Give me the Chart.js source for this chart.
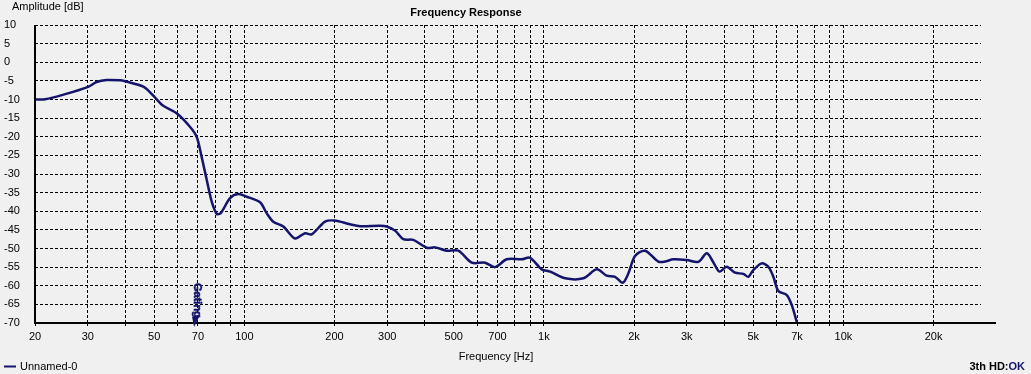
<!DOCTYPE html>
<html>
<head>
<meta charset="utf-8">
<script src="https://cdn.jsdelivr.net/npm/chart.js@4"></script>
<style>
  html, body { margin: 0; padding: 0; background: #f0f0f0; }
  canvas { display: block; }
</style>
</head>
<body>
<canvas id="freqChart" width="1031" height="374"></canvas>
<script>
// measured curve (Hz / dB)
const freqHz = [20, 21.6, 24.9, 30.1, 32.1, 34.7, 38.4, 40, 46.0, 50,
  53.6, 59.4, 65.8, 69.3, 72.0, 74.9, 77.8, 80.9, 83.4, 89.6,
  95.4, 101.8, 112.8, 118.7, 124.9, 134.9, 147.6, 159.4, 167.8, 185.9,
  200, 225.4, 243.4, 283.8, 298.8, 318.4, 339.4, 366.6, 406.2, 433.2,
  473.8, 518.2, 574.4, 636.2, 687, 751.6, 843.4, 899.4, 983.6, 1049,
  1177, 1355, 1502, 1621, 1729, 1834, 1914, 2015, 2176, 2410,
  2538, 2706, 3000, 3278, 3498, 3662, 3854, 4078, 4348, 4634,
  4816, 5004, 5338, 5616, 5836, 6064, 6470, 6724, 7004];
const amplitudeDb = [-10.0, -9.95, -8.7, -6.6, -5.3, -4.76, -4.85, -5.1, -6.56, -9.25,
  -11.7, -13.7, -17.3, -20.0, -25.4, -31.6, -37.4, -40.7, -40.5, -36.5,
  -35.4, -36.1, -37.6, -40.5, -42.8, -44.1, -47.3, -45.9, -46.2, -42.8,
  -42.5, -43.5, -44.0, -43.9, -44.1, -45.2, -47.5, -47.7, -49.8, -49.7,
  -50.6, -50.6, -53.8, -53.8, -55.0, -52.9, -52.9, -52.5, -55.6, -56.2,
  -58.0, -58.0, -55.6, -57.3, -57.6, -59.2, -56.7, -52.0, -50.6, -53.5,
  -53.5, -52.9, -53.1, -53.6, -51.3, -53.4, -56.2, -54.9, -56.5, -56.8,
  -57.6, -55.8, -54.0, -54.9, -57.6, -61.4, -62.5, -65.2, -70.0];

// axes
const xGridHz = [20, 30, 40, 50, 60, 70, 80, 90, 100, 200, 300, 400, 500, 600, 700, 800, 900,
  1000, 2000, 3000, 4000, 5000, 6000, 7000, 8000, 9000, 10000, 20000];
const xLabelHz = [20, 30, 50, 70, 100, 200, 300, 500, 700, 1000, 2000, 3000, 5000, 7000, 10000, 20000];
const xLabelText = ['20', '30', '50', '70', '100', '200', '300', '500', '700', '1k', '2k', '3k', '5k', '7k', '10k', '20k'];
const xMinHz = 20;
const xMaxHz = 28800;
const yMinDb = -70;
const yMaxDb = 10;
const yStepDb = 5;
const gatingHz = 69;

const NAVY = '#14146c';
const FONT = 'Liberation Sans, Arial, sans-serif';

const decorPlugin = {
    id: 'decor',
    afterDraw(chart) {
        const ctx = chart.ctx;
        const area = chart.chartArea;
        ctx.save();

        // axis lines
        ctx.strokeStyle = '#000';
        ctx.lineWidth = 2;
        ctx.beginPath();
        ctx.moveTo(area.left, area.top);
        ctx.lineTo(area.left, area.bottom + 1);
        ctx.moveTo(area.left - 1, area.bottom);
        ctx.lineTo(996, area.bottom);
        ctx.stroke();

        // texts
        ctx.fillStyle = '#000';
        ctx.textBaseline = 'middle';
        ctx.font = '11px ' + FONT;
        ctx.textAlign = 'left';
        ctx.fillText('Amplitude [dB]', 12, 7);
        ctx.textAlign = 'center';
        ctx.fillText('Frequency [Hz]', 496, 357);
        ctx.font = 'bold 11px ' + FONT;
        ctx.fillText('Frequency Response', 466, 12.5);

        // legend
        ctx.strokeStyle = NAVY;
        ctx.lineWidth = 2;
        ctx.beginPath();
        ctx.moveTo(4, 366.5);
        ctx.lineTo(16, 366.5);
        ctx.stroke();
        ctx.font = '11px ' + FONT;
        ctx.textAlign = 'left';
        ctx.fillText('Unnamed-0', 20, 367);

        // status
        ctx.font = 'bold 11px ' + FONT;
        ctx.textAlign = 'right';
        ctx.fillStyle = NAVY;
        ctx.fillText('OK', 1025, 367);
        const okW = ctx.measureText('OK').width;
        ctx.fillStyle = '#000';
        ctx.fillText('3th HD:', 1025 - okW, 367);

        // gating marker
        const gx = chart.scales.x.getPixelForValue(gatingHz);
        ctx.fillStyle = NAVY;
        ctx.strokeStyle = NAVY;
        ctx.beginPath();
        ctx.moveTo(gx - 4, area.bottom - 6);
        ctx.lineTo(gx + 3, area.bottom - 6);
        ctx.lineTo(gx - 2, area.bottom + 4);
        ctx.closePath();
        ctx.fill();
        ctx.translate(gx + 1, 283);
        ctx.rotate(Math.PI / 2);
        ctx.font = 'bold 11px ' + FONT;
        ctx.textAlign = 'left';
        ctx.textBaseline = 'middle';
        ctx.lineWidth = 0.6;
        ctx.fillText('Gating', 0, 0);
        ctx.strokeText('Gating', 0, 0);

        ctx.restore();
    }
};

new Chart(document.getElementById('freqChart'), {
    type: 'line',
    data: {
        datasets: [{
            label: 'Unnamed-0',
            data: freqHz.map((f, i) => ({ x: f, y: amplitudeDb[i] })),
            borderColor: NAVY,
            borderWidth: 2.5,
            pointRadius: 0,
            tension: 0.3,
            fill: false
        }]
    },
    options: {
        responsive: false,
        animation: false,
        events: [],
        layout: { padding: { left: 4, top: 25, right: 50, bottom: 0 } },
        plugins: {
            legend: { display: false },
            title: { display: false },
            tooltip: { enabled: false }
        },
        scales: {
            x: {
                type: 'logarithmic',
                min: xMinHz,
                max: xMaxHz,
                afterBuildTicks: (scale) => { scale.ticks = xGridHz.map(v => ({ value: v })); },
                afterFit: (scale) => { scale.height = 51; },
                ticks: {
                    autoSkip: false,
                    maxRotation: 0,
                    minRotation: 0,
                    padding: 2,
                    color: '#000',
                    font: { family: FONT, size: 11 },
                    callback: (value) => {
                        const i = xLabelHz.indexOf(Number(value));
                        return i >= 0 ? xLabelText[i] : '';
                    }
                },
                grid: {
                    color: '#000',
                    lineWidth: 1,
                    drawTicks: true,
                    tickLength: 5,
                    tickBorderDash: [3, 2]
                },
                border: { display: false, dash: [3, 2] }
            },
            y: {
                min: yMinDb,
                max: yMaxDb,
                afterFit: (scale) => { scale.width = 31; },
                ticks: {
                    stepSize: yStepDb,
                    crossAlign: 'far',
                    padding: 2,
                    color: '#000',
                    font: { family: FONT, size: 11 }
                },
                grid: {
                    color: '#000',
                    lineWidth: 1,
                    drawTicks: false
                },
                border: { display: false, dash: [3, 2] }
            }
        }
    },
    plugins: [decorPlugin]
});
</script>
</body>
</html>
